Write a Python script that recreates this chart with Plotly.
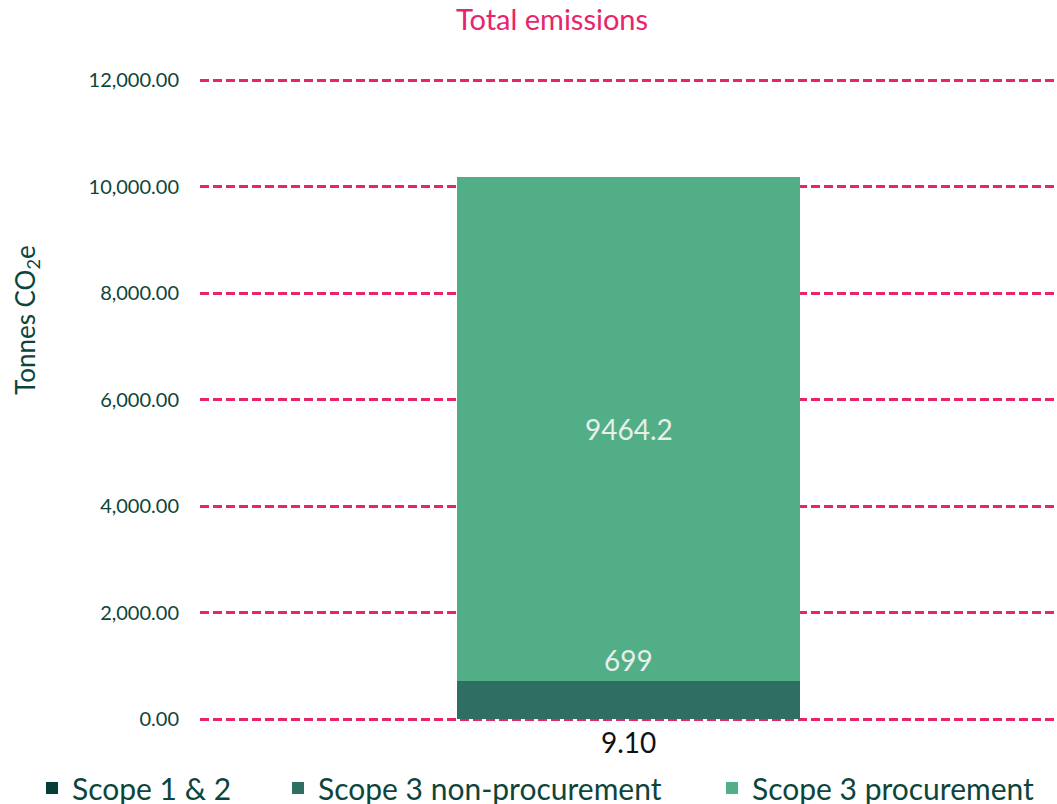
import plotly.graph_objects as go

category = ["Total"]
series_names = ["Scope 1 & 2", "Scope 3 non-procurement", "Scope 3 procurement"]
scope12 = [9.10]
scope3_nonproc = [699]
scope3_proc = [9464.2]
y_ticks = [0, 2000, 4000, 6000, 8000, 10000, 12000]

colors = ["#033f36", "#2f6e63", "#52ae87"]
PINK = "#e8246c"
TEAL = "#0d453b"
FONT = "Lato"

W, H = 1057, 804
Y_MAX = 12000
L_PX = 200
TOP_PX, BOT_PX, PAD_PX = 80, 719, 6
k = (BOT_PX - TOP_PX) / Y_MAX
pad = PAD_PX / k
plot_top = TOP_PX - PAD_PX
plot_bot = BOT_PX + PAD_PX
plot_w = W - L_PX
plot_h = plot_bot - plot_top

fig = go.Figure()
series = [scope12, scope3_nonproc, scope3_proc]
legends = ["legend", "legend2", "legend3"]
for name, vals, col, lg in zip(series_names, series, colors, legends):
    fig.add_trace(go.Bar(x=category, y=vals, name=name, marker=dict(color=col, line=dict(width=0)),
                         width=0.4, legend=lg, showlegend=True, hoverinfo="skip"))

# labels
fig.add_annotation(x=category[0], y=0, text=f"{scope12[0]:.2f}", showarrow=False,
                   yanchor="top", yshift=-4, font=dict(family=FONT, size=28, color="#111111"))
fig.add_annotation(x=category[0], y=scope12[0] + scope3_nonproc[0], text=f"{scope3_nonproc[0]}",
                   showarrow=False, yanchor="bottom", yshift=2,
                   font=dict(family=FONT, size=28, color="#e8eee8"))
fig.add_annotation(x=category[0], y=scope12[0] + scope3_nonproc[0] + scope3_proc[0] / 2,
                   text=f"{scope3_proc[0]}", showarrow=False, yanchor="middle",
                   font=dict(family=FONT, size=28, color="#e8eee8"))

# y-axis title
fig.add_annotation(xref="paper", yref="paper", x=(26 - L_PX) / plot_w, y=(plot_bot - 320) / plot_h,
                   text="Tonnes CO<sub>2</sub>e",
                   textangle=-90, showarrow=False, xanchor="center", yanchor="middle",
                   font=dict(family=FONT, size=26, color=TEAL))

leg_common = dict(orientation="h", xref="container", yref="container", yanchor="middle",
                  xanchor="left", y=1 - 788 / H, bgcolor="rgba(0,0,0,0)", borderwidth=0,
                  font=dict(family=FONT, size=30, color=TEAL), visible=True)

fig.update_layout(
    width=W, height=H,
    showlegend=True,
    paper_bgcolor="white", plot_bgcolor="white",
    margin=dict(l=L_PX, r=0, t=plot_top, b=H - plot_bot, pad=0),
    barmode="stack",
    bargap=0.6,
    title=dict(text="Total emissions", x=552 / W, xref="container", xanchor="center",
               y=1 - 20 / H, yref="container", yanchor="middle",
               font=dict(family=FONT, size=29, color=PINK)),
    xaxis=dict(showticklabels=False, showgrid=False, zeroline=False, showline=False, ticks=""),
    yaxis=dict(range=[-pad, Y_MAX + pad], tickvals=y_ticks, tickformat=",.2f",
               showgrid=True, gridcolor=PINK, gridwidth=2.5, griddash="9px,4px",
               zeroline=False, showline=False, ticks="", ticklabelstandoff=20,
               tickfont=dict(family=FONT, size=20, color=TEAL)),
    legend=dict(x=32 / W, **leg_common),
    legend2=dict(x=278 / W, **leg_common),
    legend3=dict(x=712 / W, **leg_common),
)

fig.write_html("out.html", config={"displayModeBar": False},
               post_script="document.body.style.margin='0';")
